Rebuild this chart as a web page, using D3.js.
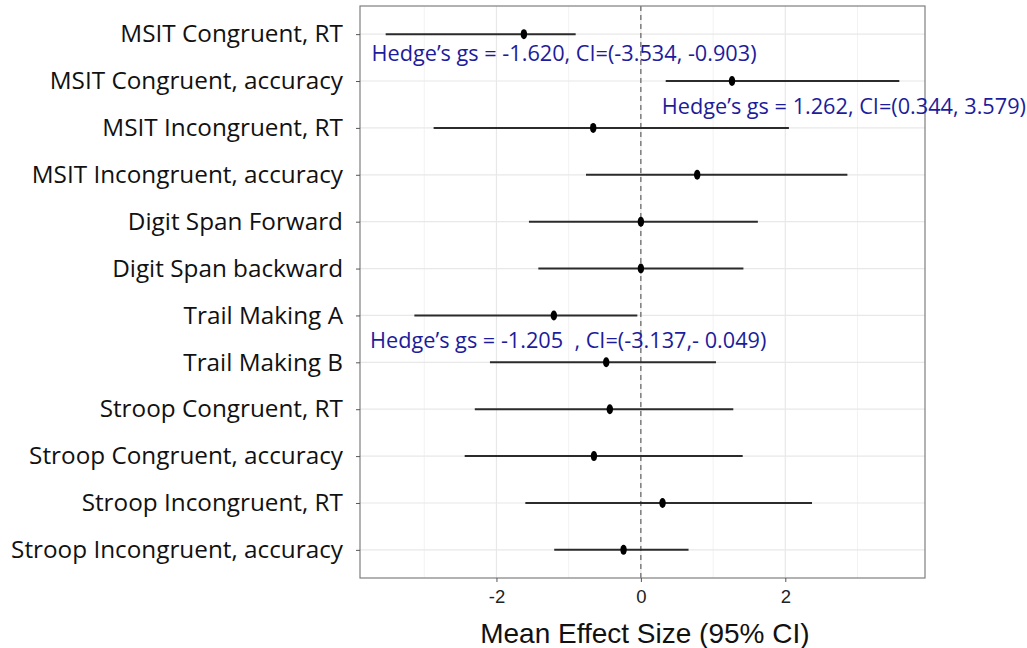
<!DOCTYPE html>
<html>
<head>
<meta charset="utf-8">
<script src="https://cdn.jsdelivr.net/npm/d3@7"></script>
<style>
  body { margin: 0; background: #fff; }
  svg { display: block; }
</style>
</head>
<body>
<svg id="chart" width="1027" height="648"></svg>
<script>
// outcomes, top to bottom
const outcomes = [
  'MSIT Congruent, RT',
  'MSIT Congruent, accuracy',
  'MSIT Incongruent, RT',
  'MSIT Incongruent, accuracy',
  'Digit Span Forward',
  'Digit Span backward',
  'Trail Making A',
  'Trail Making B',
  'Stroop Congruent, RT',
  'Stroop Congruent, accuracy',
  'Stroop Incongruent, RT',
  'Stroop Incongruent, accuracy'
]
const effect = [-1.620, 1.262, -0.66, 0.78, 0.0, 0.0, -1.205, -0.48, -0.43, -0.65, 0.30, -0.24]
const ciLow = [-3.534, 0.344, -2.87, -0.76, -1.55, -1.42, -3.137, -2.09, -2.30, -2.44, -1.60, -1.20]
const ciHigh = [-0.903, 3.579, 2.05, 2.86, 1.62, 1.42, -0.049, 1.04, 1.28, 1.41, 2.37, 0.66]

const xTicks = [-2, 0, 2]
const xMinor = [-3, -1, 1, 3]
const xTitle = 'Mean Effect Size (95% CI)'

// annotations: row index, x anchor value, baseline offset below the row, text
const notes = [
  { row: 0, x: -3.73, dy: 27, text: 'Hedge\u2019s gs = -1.620, CI=(-3.534, -0.903)' },
  { row: 1, x: 0.29, dy: 33, text: 'Hedge\u2019s gs = 1.262, CI=(0.344, 3.579)' },
  { row: 6, x: -3.75, dy: 33, text: 'Hedge\u2019s gs = -1.205  , CI=(-3.137,- 0.049)' }
]

const rows = outcomes.map((o, i) => ({ name: o, est: effect[i], lo: ciLow[i], hi: ciHigh[i] }))

const panel = { left: 360, right: 925, top: 6, bottom: 578 }
const svg = d3.select('#chart')

const lo = d3.min(ciLow), hi = d3.max(ciHigh)
const pad = (hi - lo) * 0.05
const x = d3.scaleLinear().domain([lo - pad, hi + pad]).range([panel.left, panel.right])
const y = d3.scalePoint().domain(outcomes).range([panel.top, panel.bottom]).padding(0.6)

const g = svg.append('g')

// panel background
g.append('rect')
  .attr('x', panel.left).attr('y', panel.top)
  .attr('width', panel.right - panel.left).attr('height', panel.bottom - panel.top)
  .attr('fill', '#fff')

// grid
g.selectAll('.minor').data(xMinor).join('line')
  .attr('x1', d => x(d)).attr('x2', d => x(d))
  .attr('y1', panel.top).attr('y2', panel.bottom)
  .attr('stroke', '#f2f2f2').attr('stroke-width', 1)
g.selectAll('.major').data(xTicks).join('line')
  .attr('x1', d => x(d)).attr('x2', d => x(d))
  .attr('y1', panel.top).attr('y2', panel.bottom)
  .attr('stroke', '#e8e8e8').attr('stroke-width', 1.2)
g.selectAll('.hgrid').data(outcomes).join('line')
  .attr('x1', panel.left).attr('x2', panel.right)
  .attr('y1', d => y(d)).attr('y2', d => y(d))
  .attr('stroke', '#e8e8e8').attr('stroke-width', 1.2)

// zero reference
g.append('line')
  .attr('x1', x(0)).attr('x2', x(0))
  .attr('y1', panel.top).attr('y2', panel.bottom)
  .attr('stroke', '#444').attr('stroke-width', 1)
  .attr('stroke-dasharray', '5,4')

// intervals
g.selectAll('.ci').data(rows).join('line')
  .attr('x1', d => x(d.lo)).attr('x2', d => x(d.hi))
  .attr('y1', d => y(d.name)).attr('y2', d => y(d.name))
  .attr('stroke', '#2b2b2b').attr('stroke-width', 2)

g.selectAll('.pt').data(rows).join('ellipse')
  .attr('cx', d => x(d.est)).attr('cy', d => y(d.name))
  .attr('rx', 3.2).attr('ry', 5)
  .attr('fill', '#000')

// panel border
g.append('rect')
  .attr('x', panel.left).attr('y', panel.top)
  .attr('width', panel.right - panel.left).attr('height', panel.bottom - panel.top)
  .attr('fill', 'none').attr('stroke', '#7f7f7f').attr('stroke-width', 1.2)

// y axis
const yAxis = svg.append('g')
  .attr('transform', `translate(${panel.left},0)`)
  .call(d3.axisLeft(y).tickSize(4).tickPadding(13))
yAxis.select('.domain').remove()
yAxis.selectAll('.tick line').attr('stroke', '#555')
yAxis.selectAll('.tick text')
  .attr('font-family', '"Open Sans", sans-serif')
  .attr('font-size', 24.3)
  .attr('fill', '#111')

// x axis
const xAxis = svg.append('g')
  .attr('transform', `translate(0,${panel.bottom})`)
  .call(d3.axisBottom(x).tickValues(xTicks).tickSize(4).tickPadding(8).tickFormat(d => String(d)))
xAxis.select('.domain').remove()
xAxis.selectAll('.tick line').attr('stroke', '#555')
xAxis.selectAll('.tick text')
  .attr('font-family', '"Liberation Sans", Arial, sans-serif')
  .attr('font-size', 18.5)
  .attr('fill', '#222')

svg.append('text')
  .attr('x', x(0) + 4).attr('y', 643)
  .attr('text-anchor', 'middle')
  .attr('font-family', '"Liberation Sans", Arial, sans-serif')
  .attr('font-size', 28)
  .attr('fill', '#111')
  .text(xTitle)

// annotations
svg.selectAll('.note').data(notes).join('text')
  .attr('x', d => x(d.x))
  .attr('y', d => y(outcomes[d.row]) + d.dy)
  .attr('font-family', '"Open Sans", sans-serif')
  .attr('font-size', 21.7)
  .attr('fill', '#1c1c9c')
  .style('white-space', 'pre')
  .text(d => d.text)
</script>
</body>
</html>
